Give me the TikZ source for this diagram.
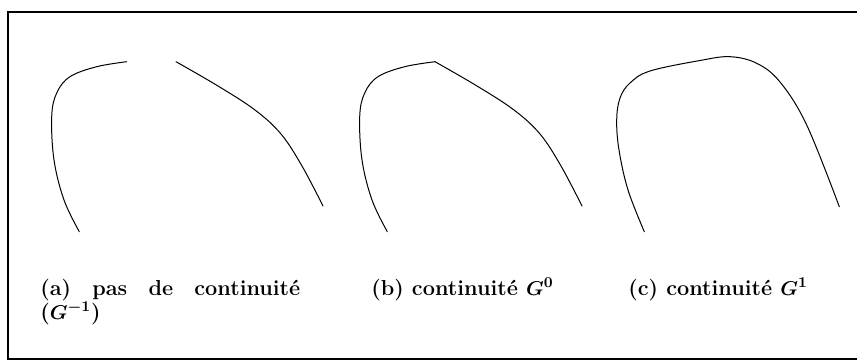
\documentclass[tikz,border=0pt]{standalone}
\usepackage{amsmath}
\tikzset{
  courbe/.style={line width=0.6pt, line cap=round},
  legende/.style={anchor=base west, inner sep=0pt,
    font=\fontsize{13}{13}\selectfont\bfseries\boldmath},
}
\begin{document}
\begin{tikzpicture}[x=0.6pt, y=-0.6pt]
  \useasboundingbox (0, 0) rectangle (857, 362);
  \draw[line width=0.9pt] (857, 12) -- (8, 12) -- (8, 359) -- (857, 359);

  % (a) deux morceaux disjoints
  \draw[courbe] plot[smooth, tension=0.6] coordinates
    {(126.7, 61.7) (96.7, 66.7) (70, 76.7) (56.7, 93) (51.7, 116.7) (54, 160) (64, 200) (79.3, 231.7)};
  \draw[courbe] plot[smooth, tension=0.6] coordinates
    {(176, 61.7) (218, 86) (255, 110) (281, 134) (302, 166) (323, 206)};

  % (b) raccord avec un point anguleux
  \draw[courbe] plot[smooth, tension=0.6] coordinates
    {(387.3, 231.7) (372, 200) (362, 160) (359.7, 116.7) (364.7, 93) (378, 76.7) (404.7, 66.7) (435, 61.7)};
  \draw[courbe] plot[smooth, tension=0.6] coordinates
    {(435, 61.7) (477, 86) (514, 110) (540, 134) (561, 166) (582, 206)};

  % (c) raccord tangent
  \draw[courbe] plot[smooth, tension=0.6] coordinates
    {(644.3, 231.7) (628, 190) (619, 150) (616.7, 120) (620, 98) (630, 83) (650, 71) (700, 60.5) (730, 56.7) (756.7, 63.3) (780, 82) (806.7, 125) (839.3, 206.7)};

  \node[legende, text width=156pt, align=justify] (capa) at (40, 295)
    {(a) pas de continuité\linebreak ($G^{-1}$)};
  \node[legende] (capb) at (371, 295) {(b) continuité $G^0$};
  \node[legende] (capc) at (628, 295) {(c) continuité $G^1$};
\end{tikzpicture}
\end{document}
